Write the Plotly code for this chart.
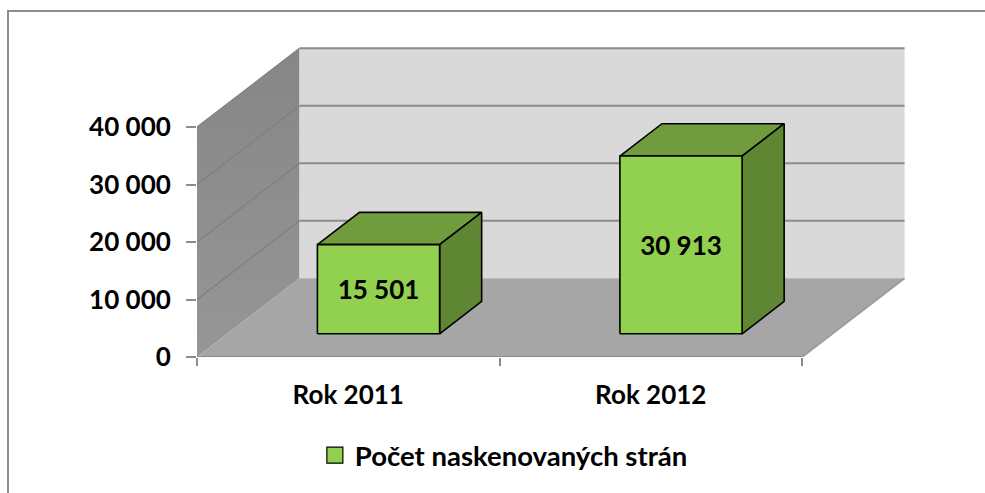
import plotly.graph_objects as go

categories = ["Rok 2011", "Rok 2012"]
values = [15501, 30913]
value_labels = ["15 501", "30 913"]
axis_values = [0, 10000, 20000, 30000, 40000]
axis_labels = ["0", "10 000", "20 000", "30 000", "40 000"]
series_name = "Počet naskenovaných strán"

W, H = 985, 493
L, R, T, B = 197, 78, 41, 136
FONT = "Lato"
TEXT = "#000000"
# oblique depth vector, in axis units
DX, DY = 0.339, 13700
BAR_W, Z0, Z1 = 0.404, 0.295, 0.705
N = len(categories)
WALL_TOP = axis_values[-1]
GRID = "#8c8c8c"
LABEL_SHIFT = -650


def proj(x, y, z=0.0):
    return x + z * DX, y + z * DY


def poly(pts, fill, line=None, width=1.6):
    xs, ys = zip(*(pts + pts[:1]))
    return go.Scatter(x=xs, y=ys, mode="lines", fill="toself", fillcolor=fill,
                      line=dict(color=line or fill, width=width if line else 0),
                      hoverinfo="skip", showlegend=False, cliponaxis=False)


def seg(a, b, color=GRID, width=2):
    return go.Scatter(x=[a[0], b[0]], y=[a[1], b[1]], mode="lines",
                      line=dict(color=color, width=width),
                      hoverinfo="skip", showlegend=False, cliponaxis=False)


fig = go.Figure()
# walls and floor
left_wall = poly([proj(0, 0), proj(0, WALL_TOP), proj(0, WALL_TOP, 1), proj(0, 0, 1)], "#8b8b8b")
left_wall.fillgradient = dict(type="vertical", start=0, stop=WALL_TOP + DY,
                              colorscale=[[0, "#969696"], [1, "#868686"]])
fig.add_trace(left_wall)
fig.add_trace(poly([proj(0, 0, 1), proj(0, WALL_TOP, 1), proj(N, WALL_TOP, 1), proj(N, 0, 1)], "#d9d9d9"))
fig.add_trace(poly([proj(0, 0), proj(N, 0), proj(N, 0, 1), proj(0, 0, 1)], "#a6a6a6"))
for v in axis_values[1:]:
    fig.add_trace(seg(proj(0, v), proj(0, v, 1), "#7f7f7f", 1.2))
    fig.add_trace(seg(proj(0, v, 1), proj(N, v, 1)))
fig.add_trace(seg(proj(0, 0), proj(N, 0)))
fig.add_trace(seg(proj(N, 0), proj(N, 0, 1), "#9c9c9c", 2))

# bars
lx, ly = [], []
for i, v in enumerate(values):
    x0, x1 = i + 0.5 - BAR_W / 2, i + 0.5 + BAR_W / 2
    fig.add_trace(poly([proj(x0, v, Z0), proj(x1, v, Z0), proj(x1, v, Z1), proj(x0, v, Z1)], "#719c3d", "#000000"))
    fig.add_trace(poly([proj(x1, 0, Z0), proj(x1, v, Z0), proj(x1, v, Z1), proj(x1, 0, Z1)], "#5f8733", "#000000"))
    fig.add_trace(poly([proj(x0, 0, Z0), proj(x0, v, Z0), proj(x1, v, Z0), proj(x1, 0, Z0)], "#92d050", "#000000"))
    cx, cy = proj(i + 0.5, v / 2, Z0)
    lx.append(cx)
    ly.append(cy + LABEL_SHIFT)

fig.add_trace(go.Scatter(x=lx, y=ly, mode="text", text=value_labels, textposition="middle center",
                         textfont=dict(family=FONT, size=26, color=TEXT, weight="bold"),
                         hoverinfo="skip", showlegend=False, cliponaxis=False))
# legend entry
fig.add_trace(go.Scatter(x=[None], y=[None], mode="markers", name=series_name,
                         marker=dict(symbol="square", size=16, color="#92d050",
                                     line=dict(color="#000000", width=1.2))))

PX_W = W - L - R
PX_H = H - T - B
x_span = PX_W / 302.5
y_span = PX_H / 5.75 * 1000

fig.update_xaxes(range=[0, x_span], tickmode="array", tickvals=[i + 0.5 for i in range(N)],
                 ticktext=categories, ticks="", ticklabelstandoff=20, showgrid=False, zeroline=False,
                 showline=False, tickfont=dict(family=FONT, size=26, color=TEXT, weight="bold"),
                 minor=dict(tickmode="array", tickvals=list(range(N + 1)), ticks="outside",
                            ticklen=8, tickwidth=1.5, tickcolor=GRID, showgrid=False))
fig.update_yaxes(range=[0, y_span], tickmode="array", tickvals=axis_values, ticktext=axis_labels,
                 ticks="outside", ticklen=10, tickwidth=1.5, tickcolor=GRID, ticklabelstandoff=10,
                 showgrid=False, zeroline=False, showline=False,
                 tickfont=dict(family=FONT, size=26, color=TEXT, weight="bold"))

# chart-area frame: only its top and left edges fall in the picture
fx0 = (8 - L) / PX_W
fy0 = 1 - (11 - T) / PX_H
fy1 = 1 - (H + 5 - T) / PX_H
fx1 = (W + 5 - L) / PX_W
fig.add_shape(type="path", xref="paper", yref="paper", layer="below",
              path=f"M {fx0} {fy1} L {fx0} {fy0} L {fx1} {fy0}",
              line=dict(color="#8c8c8c", width=2))

fig.update_layout(width=W, height=H, margin=dict(l=L, r=R, t=T, b=B, pad=0),
                  plot_bgcolor="#ffffff", paper_bgcolor="#ffffff", hovermode=False,
                  showlegend=True,
                  legend=dict(x=0.166, y=-0.2335, xanchor="left", yanchor="top", orientation="h",
                              bgcolor="rgba(0,0,0,0)",
                              font=dict(family=FONT, size=27.5, color=TEXT, weight="bold")))

fig.write_html("out.html", config=dict(displayModeBar=False),
               post_script="document.body.style.margin='0';document.body.style.overflow='hidden';")
